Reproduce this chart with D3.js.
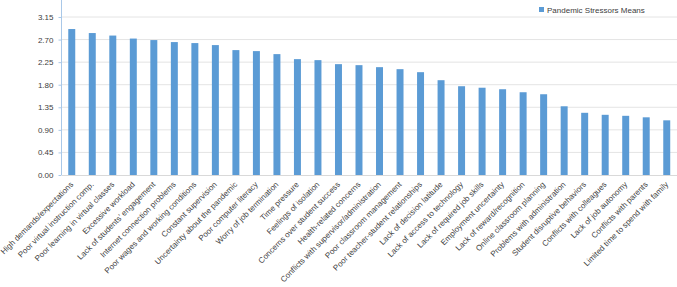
<!DOCTYPE html>
<html lang="en">
<head>
<meta charset="UTF-8">
<title>Pandemic Stressors Means</title>
<script src="https://d3js.org/d3.v7.min.js"></script>
<style>
html,body{margin:0;padding:0;background:#fff}
svg{display:block;font-family:"Liberation Sans",Arial,sans-serif}
.tick text{fill:#404040}
</style>
</head>
<body>
<svg id="chart" width="677" height="287"></svg>
<script>
// stressors, sorted by mean
const categories = [
  'High demands/expectations', 'Poor virtual instruction comp.', 'Poor learning in virtual classes',
  'Excessive workload', 'Lack of students\u2019 engagement', 'Internet connection problems',
  'Poor wages and working conditions', 'Constant supervision', 'Uncertainty about the pandemic',
  'Poor computer literacy', 'Worry of job termination', 'Time pressure', 'Feelings of isolation',
  'Concerns over student success', 'Health-related concerns', 'Conflicts with supervisor/administration',
  'Poor classroom management', 'Poor teacher-student relationships', 'Lack of decision latitude',
  'Lack of access to technology', 'Lack of required job skills', 'Employment uncertainty',
  'Lack of reward/recognition', 'Online classroom planning', 'Problems with administration',
  'Student disruptive behaviors', 'Conflicts with colleagues', 'Lack of job autonomy',
  'Conflicts with parents', 'Limited time to spend with family'
];
const means = [
  2.91, 2.83, 2.78, 2.72, 2.69, 2.65, 2.63, 2.59, 2.49, 2.47,
  2.41, 2.31, 2.29, 2.21, 2.19, 2.15, 2.11, 2.05, 1.89, 1.77,
  1.74, 1.71, 1.65, 1.61, 1.37, 1.24, 1.20, 1.18, 1.15, 1.09
];
const yTicks = [0, 0.45, 0.90, 1.35, 1.80, 2.25, 2.70, 3.15];
const seriesName = 'Pandemic Stressors Means';

const svg = d3.select('#chart');
const left = 61.5, right = 677, bottom = 175, top3 = 17;

const x = d3.scaleBand().domain(categories).range([left, right]).paddingInner(0.66).paddingOuter(0.33);
const y = d3.scaleLinear().domain([0, 3.15]).range([bottom, top3]);

// gridlines
svg.append('g').selectAll('line').data(yTicks.slice(1)).join('line')
  .attr('x1', left).attr('x2', right)
  .attr('y1', d => y(d)).attr('y2', d => y(d))
  .attr('stroke', '#e4e4e4').attr('stroke-width', 1);

// bars
svg.append('g').selectAll('rect').data(means).join('rect')
  .attr('x', (d, i) => x(categories[i]))
  .attr('width', x.bandwidth())
  .attr('y', d => y(d))
  .attr('height', d => bottom - y(d))
  .attr('fill', '#5b9bd5');

// y axis
const yAxis = svg.append('g').attr('transform', 'translate(' + left + ',0)')
  .call(d3.axisLeft(y).tickValues(yTicks).tickFormat(d3.format('.2f')).tickSize(3).tickPadding(5));
yAxis.select('.domain').remove();
yAxis.selectAll('.tick line').attr('stroke', '#a9c8e8');
yAxis.selectAll('.tick text').attr('font-size', 8).attr('font-family', 'Liberation Sans, Arial, sans-serif');
svg.append('line').attr('x1', left).attr('x2', left).attr('y1', 0).attr('y2', bottom)
  .attr('stroke', '#a9c8e8').attr('stroke-width', 1);

// x axis
const xAxis = svg.append('g').attr('transform', 'translate(0,' + bottom + ')')
  .call(d3.axisBottom(x).tickSize(0).tickPadding(0));
xAxis.select('.domain').attr('stroke', '#d9d9d9');
xAxis.selectAll('.tick text')
  .attr('font-size', 8).attr('font-family', 'Liberation Sans, Arial, sans-serif')
  .attr('text-anchor', 'end').attr('dy', null)
  .attr('transform', 'translate(2,10) rotate(-45)');

// legend
const lg = svg.append('g').attr('transform', 'translate(539,7)');
lg.append('rect').attr('width', 5).attr('height', 5).attr('fill', '#5b9bd5');
lg.append('text').attr('x', 8).attr('y', 5.5).attr('font-size', 8).attr('fill', '#404040').text(seriesName);
</script>
</body>
</html>
